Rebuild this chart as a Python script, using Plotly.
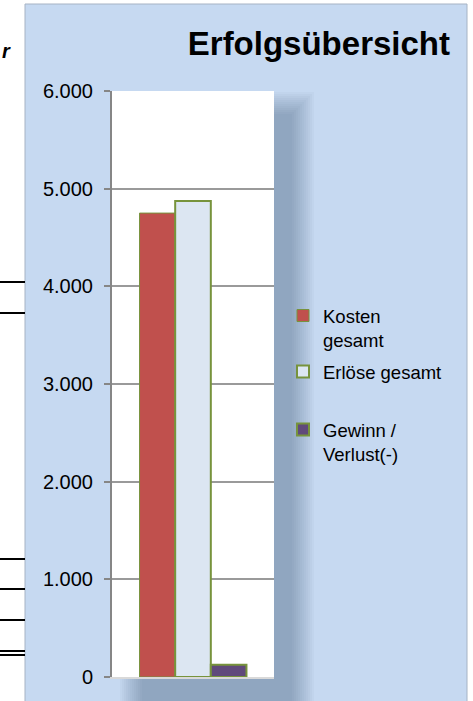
import plotly.graph_objects as go

# ---------------- data ----------------
categories = ["Erfolg"]
series_names = ["Kosten<br>gesamt", "Erlöse gesamt", "Gewinn /<br>Verlust(-)"]
kosten = [4750]
erloese = [4875]
gewinn = [125]
y_ticks = [0, 1000, 2000, 3000, 4000, 5000, 6000]

# ---------------- layout helpers (pixel -> paper) ----------------
W, H = 473, 701
ML, MR, MT, MB = 112, 199, 91, 24
PW, PH = W - ML - MR, H - MT - MB


def px(x):
    return (x - ML) / PW


def py(y):
    return 1 - (y - MT) / PH


FONT = "Arial, Liberation Sans, sans-serif"
BLUE_BG = "#C6D9F1"
OUTLINE = "#77933C"

fig = go.Figure()
fills = ["#C0504D", "#DCE6F2", "#604A7B"]
lws = [1, 2, 2]
vals = [kosten, erloese, gewinn]
legends = ["legend", "legend2", "legend3"]
for name, v, c, lw, lg in zip(series_names, vals, fills, lws, legends):
    fig.add_trace(go.Bar(
        x=categories, y=v, name=name,
        marker=dict(color=c, line=dict(color=OUTLINE, width=lw)),
        legend=lg, showlegend=True, hoverinfo="skip",
    ))

shapes = []
# chart area background
shapes.append(dict(type="rect", xref="paper", yref="paper", layer="below",
                   x0=px(25), x1=px(467), y0=py(H + 5), y1=py(4),
                   fillcolor=BLUE_BG, line=dict(color="#A6B3C4", width=1)))
# spreadsheet lines left of the chart
for yy in [282, 313, 559, 589, 620, 651, 655]:
    shapes.append(dict(type="line", xref="paper", yref="paper", layer="below",
                       x0=px(0), x1=px(25), y0=py(yy), y1=py(yy),
                       line=dict(color="black", width=2)))
# soft shadow behind the plot area
n = 12
for i in range(n):
    g = i * 2.0
    shapes.append(dict(type="rect", xref="paper", yref="paper", layer="below",
                       x0=px(120 + g), x1=px(314 - g), y0=py(H + 40), y1=py(92 + g),
                       fillcolor="rgba(60,80,110,0.034)", line=dict(width=0)))
# white plot area
shapes.append(dict(type="rect", xref="paper", yref="paper", layer="below",
                   x0=0, x1=1, y0=0, y1=1, fillcolor="white", line=dict(width=0)))

legend_common = dict(xanchor="left", yanchor="top", valign="top",
                     bgcolor="rgba(0,0,0,0)", borderwidth=0,
                     font=dict(family=FONT, size=18.5, color="black"))

fig.update_layout(
    width=W, height=H,
    margin=dict(l=ML, r=MR, t=MT, b=MB, pad=0),
    paper_bgcolor="white", plot_bgcolor="rgba(0,0,0,0)",
    separators=",.",
    showlegend=True,
    barmode="group", bargap=0.34, bargroupgap=0,
    font=dict(family=FONT, color="black"),
    title=dict(text="Erfolgsübersicht", xref="container", x=450 / W, xanchor="right",
               yref="container", y=1 - 43 / H, yanchor="middle",
               font=dict(family=FONT, size=33, weight=700, color="black")),
    xaxis=dict(showticklabels=False, ticks="", showgrid=False, zeroline=False,
               showline=True, linecolor="#D9D9D9", linewidth=2, range=[-0.5, 0.5]),
    yaxis=dict(range=[0, 6000], tickvals=y_ticks, tickformat=",.0f",
               showgrid=True, gridcolor="#9A9A9A", gridwidth=1.5, zeroline=False,
               showline=True, linecolor="#868686", linewidth=2,
               ticks="outside", ticklen=6, tickcolor="#868686", tickwidth=1.5,
               ticklabelstandoff=7,
               tickfont=dict(family=FONT, size=20, color="black")),
    legend=dict(x=px(283), y=py(297), **legend_common),
    legend2=dict(x=px(283), y=py(353), **legend_common),
    legend3=dict(x=px(283), y=py(411), **legend_common),
    shapes=shapes,
    annotations=[dict(text="<b><i>r</i></b>", xref="paper", yref="paper",
                      x=px(0), y=py(51), xanchor="left", yanchor="middle",
                      showarrow=False, font=dict(family=FONT, size=20, color="black"))],
)

fig.write_html("out.html",
               config={"displayModeBar": False},
               post_script="document.body.style.margin='0';document.body.style.padding='0';")
